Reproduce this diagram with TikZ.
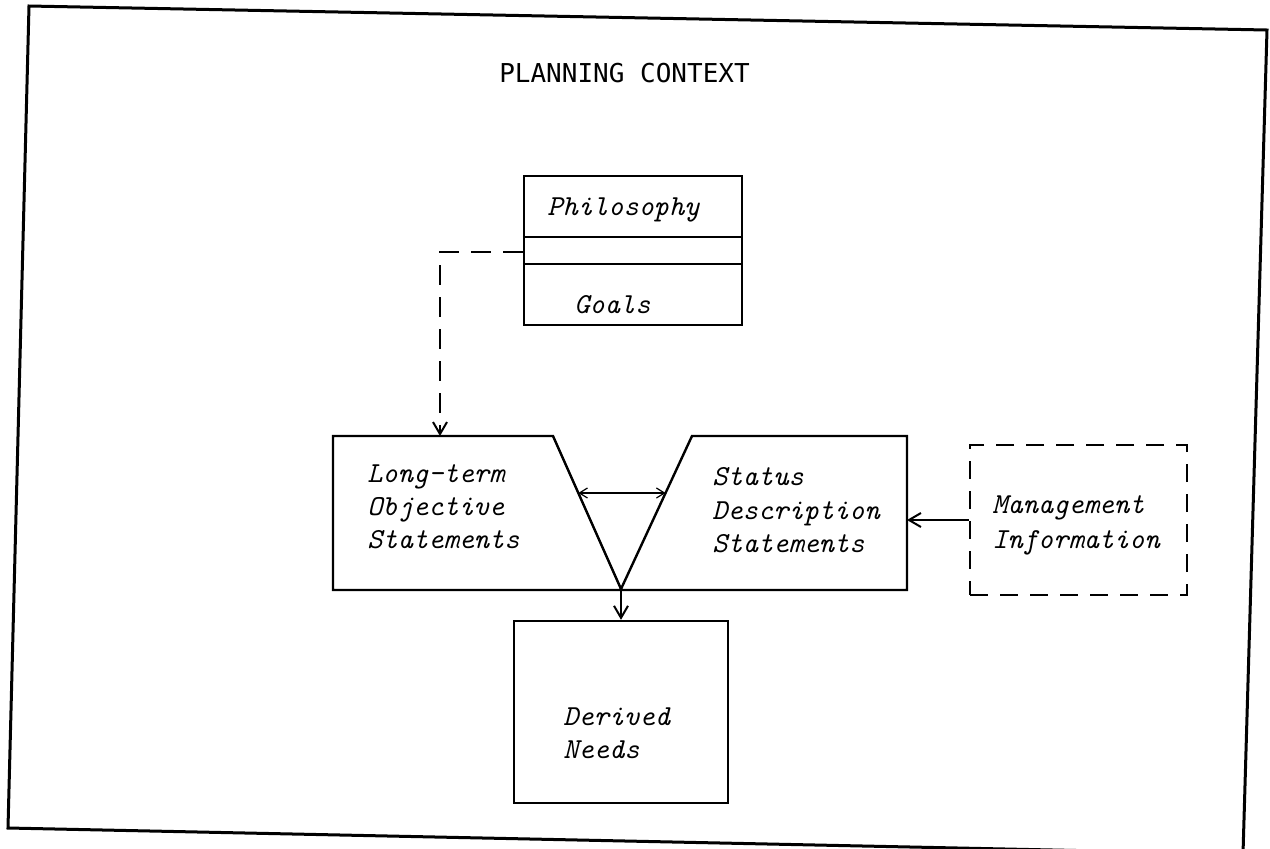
\documentclass[tikz,border=0pt]{standalone}
\usepackage{fontspec}
\usetikzlibrary{arrows.meta,calc}
\newfontfamily\titlefont{DejaVu Sans Mono}
\begin{document}
\begin{tikzpicture}[x=0.5pt,y=-0.5pt,
  framestyle/.style={line width=1.5pt},
  boxline/.style={line width=1.2pt},
  box/.style={draw, line width=1.2pt, inner sep=0pt},
  lbl/.style={anchor=base west, inner sep=0pt, font=\ttfamily\itshape\fontsize{14.5}{16}\selectfont},
  arr/.style={-{Straight Barb[length=6pt,width=7pt]}, line width=1pt},
  dasharr/.style={arr, dash pattern=on 10pt off 6pt},
  dblarr/.style={{Straight Barb[length=4pt,width=5pt]}-{Straight Barb[length=4pt,width=5pt]}, line width=0.6pt}]
\useasboundingbox (0,0) rectangle (1270,848);
\begin{scope}
  \clip (0,0) rectangle (1270,848);
  \draw[framestyle] (29,6) -- (1267,30) -- (1243,854) -- (8,828) -- cycle;
\end{scope}
% title
\node[font=\titlefont\fontsize{13}{13}\selectfont, anchor=base, inner sep=0pt] (title) at (624.5,82) {PLANNING CONTEXT};
% Philosophy / Goals box
\node[box, minimum width=109pt, minimum height=74.5pt] (phil) at (633,250.5) {};
\coordinate (d1w) at ($(phil.north west)!0.409!(phil.south west)$);
\coordinate (d1e) at ($(phil.north east)!0.409!(phil.south east)$);
\coordinate (d2w) at ($(phil.north west)!0.59!(phil.south west)$);
\coordinate (d2e) at ($(phil.north east)!0.59!(phil.south east)$);
\coordinate (pm) at ($(phil.north west)!0.51!(phil.south west)$);
\draw[boxline] (d1w) -- (d1e);
\draw[boxline] (d2w) -- (d2e);
\node[lbl] (philtxt) at (547,215) {Philosophy};
\node[lbl] (goalstxt) at (574,313) {Goals};
% V-shaped statement boxes
\coordinate (ltnw) at (333,436);
\coordinate (ltne) at (553,436);
\coordinate (vtip) at (621,589);
\coordinate (sdnw) at (692,436);
\coordinate (sdne) at (907,436);
\coordinate (sdse) at (907,590);
\coordinate (ltsw) at (333,590);
\coordinate (ltin) at (440,436);
\draw[boxline] (ltne) -- (ltnw) -- (ltsw) -- (sdse) -- (sdne) -- (sdnw) -- (vtip) -- cycle;
\node[lbl] (lt1) at (367,482) {Long-term};
\node[lbl] (lt2) at (367,515) {Objective};
\node[lbl] (lt3) at (367,548) {Statements};
\node[lbl] (sd1) at (712,485) {Status};
\node[lbl] (sd2) at (712,519) {Description};
\node[lbl] (sd3) at (712,552) {Statements};
\coordinate (ma) at ($(ltne)!0.3725!(vtip)$);
\coordinate (mb) at ($(sdnw)!0.3725!(vtip)$);
\draw[dblarr] (ma) -- (mb);
% Management information
\node[box, dash pattern=on 9pt off 6pt, minimum width=108.5pt, minimum height=75pt] (mgmt) at (1078.5,520) {};
\node[lbl] (mg1) at (992,513) {Management};
\node[lbl] (mg2) at (992,548) {Information};
\coordinate (sde) at (mgmt.west -| sdse);
\draw[arr] (mgmt.west) -- (sde);
% Derived needs
\node[box, minimum width=107pt, minimum height=91pt] (der) at (621,712) {};
\node[lbl] (dn1) at (563,725) {Derived};
\node[lbl] (dn2) at (563,758) {Needs};
\draw[arr] (vtip) -- (der.north);
% dashed connector
\draw[dasharr] (pm) -| (ltin);
\end{tikzpicture}
\end{document}
